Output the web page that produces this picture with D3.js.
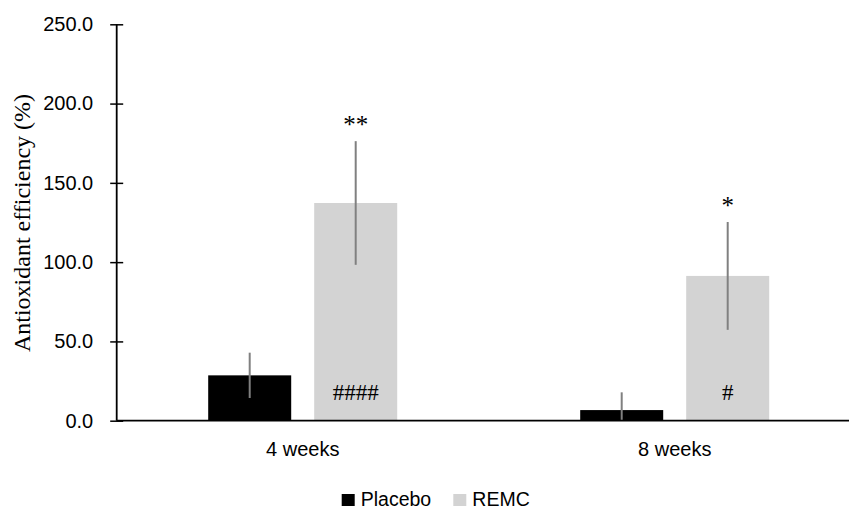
<!DOCTYPE html>
<html>
<head>
<meta charset="utf-8">
<script src="https://cdn.jsdelivr.net/npm/d3@7"></script>
<style>
  body { margin: 0; background: #fff; }
</style>
</head>
<body>
<div id="chart"></div>
<script>
// chart data
var categories = ["4 weeks", "8 weeks"];
var seriesNames = ["Placebo", "REMC"];
var placeboValues = [28.6, 6.7];
var placeboErrors = [14.3, 11.2];
var remcValues = [137.3, 91.3];
var remcErrors = [39.0, 34.0];
var starLabels = ["**", "*"];     // above REMC error bars
var hashLabels = ["####", "#"];   // inside REMC bars
var yTicks = [0, 50, 100, 150, 200, 250];

var colors = {Placebo: "#000000", REMC: "#d3d3d3"};

var W = 849, H = 510;
var margin = {top: 24.3, left: 116.7, bottom: 510 - 420.7};
var h = H - margin.top - margin.bottom;

var svg = d3.select("#chart")
  .append("svg")
  .attr("width", W)
  .attr("height", H);

// build rows for the bars
var rows = [];
categories.forEach(function (c, i) {
  rows.push({cat: c, series: "Placebo", value: placeboValues[i], err: placeboErrors[i]});
  rows.push({cat: c, series: "REMC", value: remcValues[i], err: remcErrors[i]});
});

// scales
var x0 = d3.scaleBand()
  .domain(categories)
  .range([margin.left, margin.left + 744]);

var groupW = 189;
var x1 = d3.scaleBand()
  .domain(seriesNames)
  .range([(x0.bandwidth() - groupW) / 2, (x0.bandwidth() + groupW) / 2])
  .paddingInner(23 / 106);

var y = d3.scaleLinear()
  .domain([0, 250])
  .range([margin.top + h, margin.top]);

// bars
svg.selectAll(".bar")
  .data(rows)
  .enter().append("rect")
  .attr("class", "bar")
  .attr("x", d => x0(d.cat) + x1(d.series))
  .attr("y", d => y(d.value))
  .attr("width", x1.bandwidth())
  .attr("height", d => y(0) - y(d.value))
  .attr("fill", d => colors[d.series]);

// error bars
svg.selectAll(".err")
  .data(rows)
  .enter().append("line")
  .attr("class", "err")
  .attr("x1", d => x0(d.cat) + x1(d.series) + x1.bandwidth() / 2)
  .attr("x2", d => x0(d.cat) + x1(d.series) + x1.bandwidth() / 2)
  .attr("y1", d => y(d.value + d.err))
  .attr("y2", d => y(Math.max(0, d.value - d.err)))
  .attr("stroke", "#808080")
  .attr("stroke-width", 2);

// significance marks
var remcRows = rows.filter(d => d.series == "REMC");
svg.selectAll(".star")
  .data(remcRows)
  .enter().append("text")
  .attr("class", "star")
  .attr("x", d => x0(d.cat) + x1(d.series) + x1.bandwidth() / 2)
  .attr("y", d => y(d.value + d.err) - 8)
  .attr("text-anchor", "middle")
  .style("font-family", "'Liberation Serif', serif")
  .style("font-size", "25px")
  .text((d, i) => starLabels[i]);

svg.selectAll(".hash")
  .data(remcRows)
  .enter().append("text")
  .attr("class", "hash")
  .attr("x", d => x0(d.cat) + x1(d.series) + x1.bandwidth() / 2)
  .attr("y", y(0) - 20.5)
  .attr("text-anchor", "middle")
  .style("font-family", "'Liberation Serif', serif")
  .style("font-size", "23px")
  .text((d, i) => hashLabels[i]);

// y axis
var yAxis = svg.append("g")
  .attr("transform", "translate(" + margin.left + ",0)")
  .call(d3.axisLeft(y).tickValues(yTicks).tickFormat(d3.format(".1f")).tickSize(6.5).tickPadding(17));
yAxis.selectAll(".tick line")
  .attr("x2", 6.5).attr("x1", -6.5)
  .attr("stroke", "#000").attr("stroke-width", 1.5);
yAxis.select(".domain")
  .attr("d", "M0," + y(250) + "V" + y(0))
  .attr("stroke", "#000").attr("stroke-width", 1.8);
yAxis.selectAll(".tick text")
  .style("font-family", "'Liberation Sans', Arial, sans-serif")
  .style("font-size", "20px")
  .attr("fill", "#000");

// x axis
var xAxis = svg.append("g")
  .attr("transform", "translate(0," + y(0) + ")")
  .call(d3.axisBottom(x0).tickSize(0).tickPadding(21));
xAxis.select(".domain")
  .attr("d", "M" + margin.left + ",0H" + W)
  .attr("stroke", "#000").attr("stroke-width", 1.8);
xAxis.selectAll(".tick text")
  .style("font-family", "'Liberation Sans', Arial, sans-serif")
  .style("font-size", "20px")
  .attr("fill", "#000");

// y axis title
svg.append("text")
  .attr("transform", "translate(30," + 223 + ") rotate(-90)")
  .attr("text-anchor", "middle")
  .style("font-family", "'Liberation Serif', serif")
  .style("font-size", "24px")
  .text("Antioxidant efficiency (%)");

// legend
var legendX = [341.7, 453.3];
var legend = svg.selectAll(".legend")
  .data(seriesNames)
  .enter().append("g")
  .attr("class", "legend")
  .attr("transform", (d, i) => "translate(" + legendX[i] + ",494)");
legend.append("rect")
  .attr("width", 13)
  .attr("height", 12)
  .attr("fill", d => colors[d]);
legend.append("text")
  .attr("x", 19)
  .attr("y", 11.5)
  .style("font-family", "'Liberation Sans', Arial, sans-serif")
  .style("font-size", "19.5px")
  .text(d => d);
</script>
</body>
</html>
